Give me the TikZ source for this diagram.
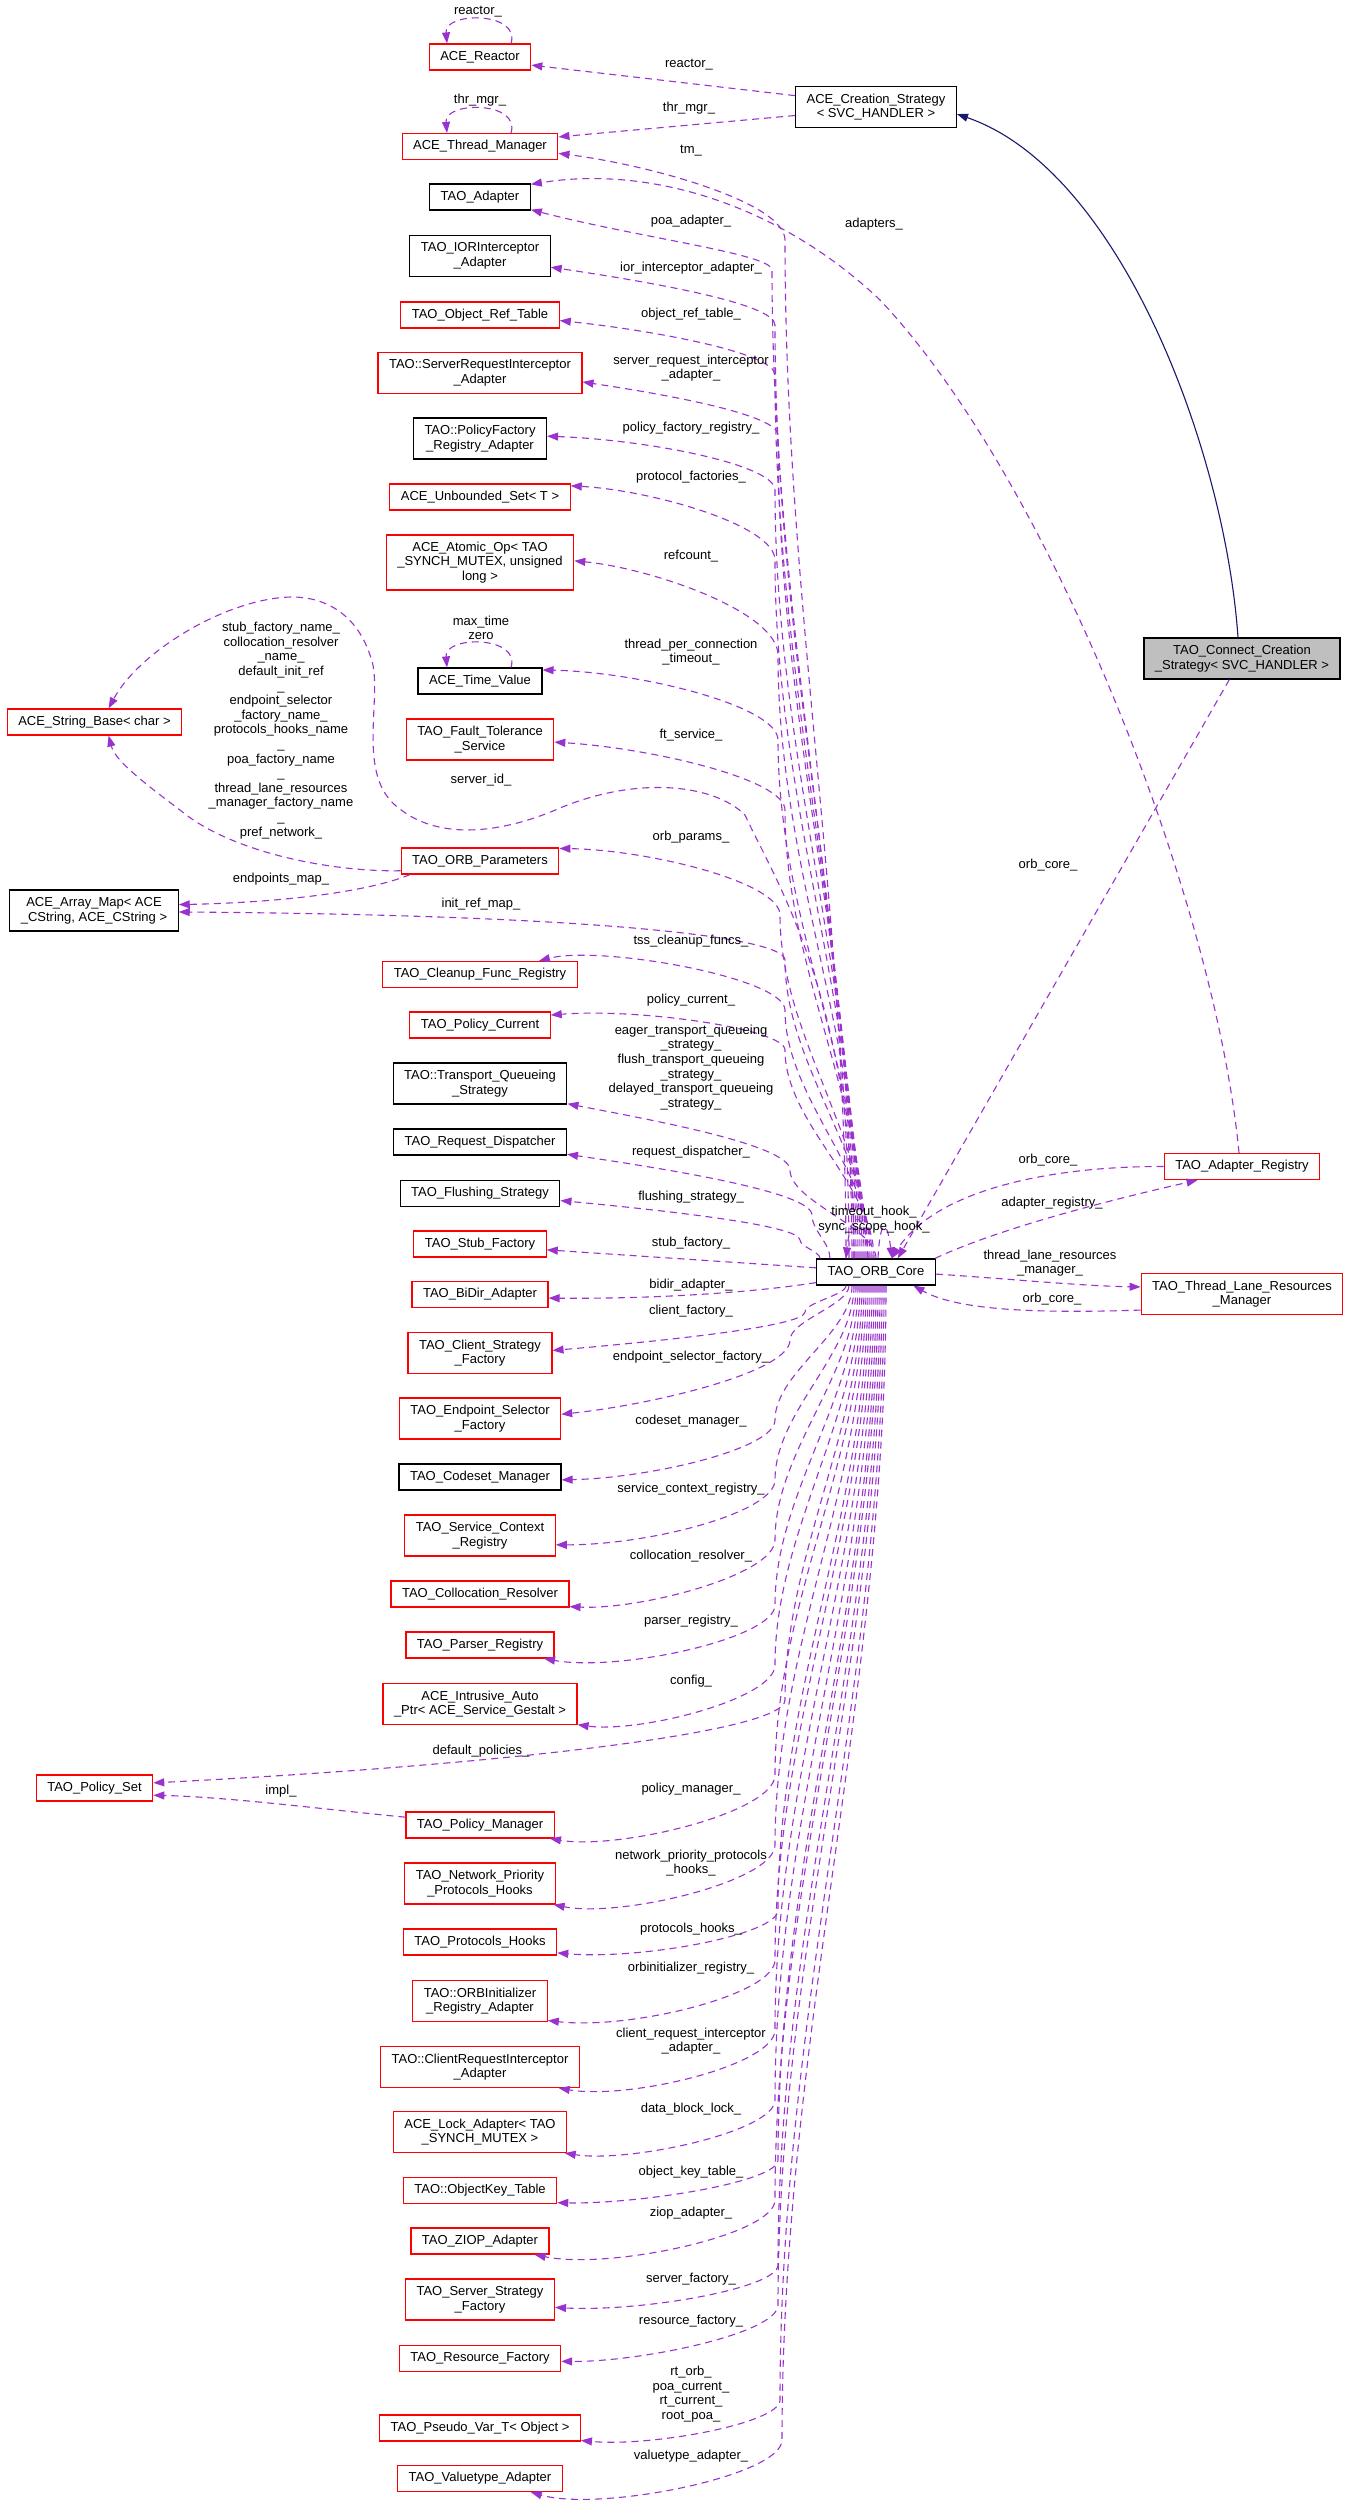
\documentclass[tikz,border=0pt]{standalone}
\usepackage{fontspec}
\setmainfont{Liberation Sans}
\usetikzlibrary{arrows.meta,calc}
\definecolor{depcol}{HTML}{9A32CD}
\definecolor{inhcol}{HTML}{191970}
\definecolor{boxgray}{HTML}{BFBFBF}
\newcommand\umlfont{\fontsize{13}{14.6}\selectfont}
\begin{document}
\begin{tikzpicture}
[x=1pt,y=-1pt,
  cls/.style={rectangle,draw,align=center,inner xsep=11pt,inner ysep=2pt,%
    minimum height=26pt,line width=1.2pt,font=\umlfont},%
  clsred/.style={cls,draw=red},%
  clsblk/.style={cls,draw=black},%
  clsgray/.style={cls,draw=black,fill=boxgray},%
  twoline/.style={minimum height=41pt},%
  threeline/.style={minimum height=55pt},%
  lbl/.style={align=center,inner sep=0pt,font=\umlfont},%
  dep/.style={draw=depcol,line width=1.1pt,dash pattern=on 7pt off 5pt,%
    -{Triangle[length=11pt,width=8pt]}},%
  inh/.style={draw=inhcol,line width=1.1pt,-{Triangle[length=11pt,width=8pt]}}]
\useasboundingbox (0,0) rectangle (1349,2514);
\fill[white] (0,0) rectangle (1349,2514);
%% classes
\node[clsred] (reactor) at (480,57) {ACE\_Reactor};
\node[clsred] (thrmgr) at (480,146.5) {ACE\_Thread\_Manager};
\node[clsblk,twoline] (creation) at (876,107) {ACE\_Creation\_Strategy\\< SVC\_HANDLER >};
\node[clsblk] (adapter) at (480,197) {TAO\_Adapter};
\node[clsblk,twoline] (iorint) at (480,256) {TAO\_IORInterceptor\\\_Adapter};
\node[clsred] (objref) at (480,315) {TAO\_Object\_Ref\_Table};
\node[clsred,twoline] (srvreq) at (480,373) {TAO::ServerRequestInterceptor\\\_Adapter};
\node[clsblk,twoline] (polfac) at (480,438.5) {TAO::PolicyFactory\\\_Registry\_Adapter};
\node[clsred] (unbset) at (480,497) {ACE\_Unbounded\_Set< T >};
\node[clsred,threeline] (atomic) at (480,562.5) {ACE\_Atomic\_Op< TAO\\\_SYNCH\_MUTEX, unsigned\\long >};
\node[clsblk] (timeval) at (480,681) {ACE\_Time\_Value};
\node[clsred,twoline] (faulttol) at (480,739.5) {TAO\_Fault\_Tolerance\\\_Service};
\node[clsred] (strbase) at (94.5,722) {ACE\_String\_Base< char >};
\node[clsred] (orbparams) at (480,861) {TAO\_ORB\_Parameters};
\node[clsblk,twoline] (arraymap) at (94,910.5) {ACE\_Array\_Map< ACE\\\_CString, ACE\_CString >};
\node[clsred] (cleanup) at (480,974.5) {TAO\_Cleanup\_Func\_Registry};
\node[clsred] (polcur) at (480,1025) {TAO\_Policy\_Current};
\node[clsblk,twoline] (transq) at (480,1083.5) {TAO::Transport\_Queueing\\\_Strategy};
\node[clsblk] (reqdisp) at (480,1142) {TAO\_Request\_Dispatcher};
\node[clsblk] (flush) at (480,1193.5) {TAO\_Flushing\_Strategy};
\node[clsred] (stubfac) at (480,1244) {TAO\_Stub\_Factory};
\node[clsblk] (core) at (876,1272) {TAO\_ORB\_Core};
\node[clsred] (bidir) at (480,1294.5) {TAO\_BiDir\_Adapter};
\node[clsred,twoline] (clistrat) at (480,1353) {TAO\_Client\_Strategy\\\_Factory};
\node[clsred,twoline] (endpsel) at (480,1418.5) {TAO\_Endpoint\_Selector\\\_Factory};
\node[clsblk] (codeset) at (480,1477) {TAO\_Codeset\_Manager};
\node[clsred,twoline] (svcctx) at (480,1535.5) {TAO\_Service\_Context\\\_Registry};
\node[clsred] (colloc) at (480,1594) {TAO\_Collocation\_Resolver};
\node[clsred] (parser) at (480,1645) {TAO\_Parser\_Registry};
\node[clsred,twoline] (intrusive) at (480,1704) {ACE\_Intrusive\_Auto\\\_Ptr< ACE\_Service\_Gestalt >};
\node[clsred] (polset) at (94.5,1788) {TAO\_Policy\_Set};
\node[clsred] (polmgr) at (480,1825) {TAO\_Policy\_Manager};
\node[clsred,twoline] (netprio) at (480,1883.5) {TAO\_Network\_Priority\\\_Protocols\_Hooks};
\node[clsred] (protohooks) at (480,1942) {TAO\_Protocols\_Hooks};
\node[clsred,twoline] (orbinit) at (480,2001) {TAO::ORBInitializer\\\_Registry\_Adapter};
\node[clsred,twoline] (clireq) at (480,2067) {TAO::ClientRequestInterceptor\\\_Adapter};
\node[clsred,twoline] (lockadp) at (480,2132) {ACE\_Lock\_Adapter< TAO\\\_SYNCH\_MUTEX >};
\node[clsred] (objkey) at (480,2190.5) {TAO::ObjectKey\_Table};
\node[clsred] (ziop) at (480,2241) {TAO\_ZIOP\_Adapter};
\node[clsred,twoline] (srvstrat) at (480,2299.5) {TAO\_Server\_Strategy\\\_Factory};
\node[clsred] (resfac) at (480,2358.5) {TAO\_Resource\_Factory};
\node[clsred] (pseudo) at (480,2428) {TAO\_Pseudo\_Var\_T< Object >};
\node[clsred] (valuetype) at (480,2478.5) {TAO\_Valuetype\_Adapter};
\node[clsgray,twoline] (connect) at (1242,658.5) {TAO\_Connect\_Creation\\\_Strategy< SVC\_HANDLER >};
\node[clsred] (adpreg) at (1242,1166.5) {TAO\_Adapter\_Registry};
\node[clsred,twoline] (tlrm) at (1242,1294) {TAO\_Thread\_Lane\_Resources\\\_Manager};
%% members of TAO_ORB_Core, upper half
\foreach \tgt/\ang/\px/\py/\cx/\cy/\sx in {
  thrmgr/-5/785/240/650/165/-30, adapter/-14/772/270/640/238/-27,
  iorint/-9/775/325/650/282/-24, objref/-4/775/375/650/330/-22,
  srvreq/-5/778/435/670/395/-20, polfac/2/775/490/650/440/-18,
  unbset/7/775/560/650/490/-16, atomic/1/778/655/650/568/-14,
  timeval/10/778/740/640/672/-12, faulttol/-2/785/810/650/748/-10,
  orbparams/9/780/915/650/850/-8, arraymap/-1/785/960/600/915/-6,
  cleanup/13/785/1010/600/945/-4, polcur/8/785/1050/640/1008/-2,
  transq/-13/790/1170/640/1118/0, reqdisp/-8/812/1215/660/1168/-46,
  flush/-5/800/1240/660/1210/-56} {
  \pgfmathsetmacro\k{0.35*(1259-\py)}
  \pgfmathsetmacro\cc{(\py+\cy)/2}
  \draw[dep] ([xshift=\sx pt]core.north) .. controls +(0,-\k) and +(0,\k) .. (\px,\py)
    .. controls (\px,\cc) and (\cx,\cy) .. (\tgt.\ang);
}
%% members of TAO_ORB_Core, lower half
\foreach \tgt/\ang/\px/\py/\cx/\cy/\sx in {
  clistrat/2/805/1312/650/1342/-30, endpsel/3/790/1340/650/1405/-27,
  codeset/-2/775/1420/650/1478/-24, svcctx/-7/775/1480/650/1545/-22,
  colloc/-8/775/1540/640/1610/-20, parser/-12/775/1605/620/1672/-18,
  intrusive/-12/775/1665/640/1733/-16, polset/5/785/1700/500/1765/-14,
  polmgr/-11/775/1775/620/1850/-12, netprio/-16/775/1845/620/1918/-10,
  protohooks/-8/778/1910/640/1960/-8, orbinit/-16/775/1960/630/2030/-6,
  clireq/-15/775/2030/630/2100/-4, lockadp/-14/775/2100/630/2163/-2,
  objkey/-9/778/2160/640/2204/0, ziop/-14/775/2200/610/2270/2,
  srvstrat/-6/778/2265/640/2312/4, resfac/-2/778/2305/640/2362/6,
  pseudo/-7/780/2400/650/2447/8, valuetype/-15/782/2440/600/2512/10} {
  \pgfmathsetmacro\k{0.35*(\py-1285)}
  \pgfmathsetmacro\cc{(\py+\cy)/2}
  \draw[dep] ([xshift=\sx pt]core.south) .. controls +(0,\k) and +(0,-\k) .. (\px,\py)
    .. controls (\px,\cc) and (\cx,\cy) .. (\tgt.\ang);
}
\draw[dep] (core.176) -- (stubfac.-5);
\draw[dep] (core.190) .. controls (750,1293) and (650,1299) .. (bidir.-3);
\draw[dep] ([xshift=-22pt]core.north) .. controls (854,1000) and (775,880) .. (745,815)
  .. controls (715,785) and (640,775) .. (560,808)
  .. controls (510,830) and (440,845) .. (395,805)
  .. controls (355,770) and (385,690) .. (370,655)
  .. controls (355,610) and (320,597) .. (293,597)
  .. controls (230,597) and (140,650) .. (strbase.44);
%% self references
\draw[dep] ([xshift=31pt]reactor.north) .. controls +(10,-32) and +(-3,-32) .. ([xshift=-33pt]reactor.north);
\draw[dep] ([xshift=31pt]thrmgr.north) .. controls +(10,-32) and +(-3,-32) .. ([xshift=-33pt]thrmgr.north);
\draw[dep] ([xshift=31pt]timeval.north) .. controls +(10,-32) and +(-3,-32) .. ([xshift=-33pt]timeval.north);
\draw[dep] ([xshift=-8pt]core.north) .. controls +(-2,-50) and +(5,-50) .. ([xshift=-30pt]core.north);
\draw[dep] ([xshift=2pt]core.north) .. controls +(2,-40) and +(-5,-40) .. ([xshift=16pt]core.north);
%% other usage edges
\draw[dep] (creation.172) -- (reactor.-9);
\draw[dep] (creation.-174) -- (thrmgr.7);
\draw[dep] (orbparams.187) .. controls (330,872) and (230,852) .. (180,810)
  .. controls (140,780) and (115,760) .. (strbase.-44);
\draw[dep] (orbparams.191) .. controls (360,895) and (260,903) .. (arraymap.4);
\draw[dep] (polmgr.174) .. controls (330,1810) and (230,1797) .. (polset.-7);
\draw[dep] ([xshift=-3pt]adpreg.north) .. controls (1215,900) and (1050,480) .. (880,300)
  .. controls (780,205) and (650,165) .. (adapter.14);
\draw[dep] (connect.-121) -- (core.32);
\draw[dep] (adpreg.west) .. controls (1050,1166) and (935,1190) .. (core.41);
\draw[dep] (core.13) .. controls (1000,1228) and (1110,1200) .. (adpreg.-163);
\draw[dep] (core.-2) .. controls (1000,1278) and (1080,1286) .. (tlrm.176);
\draw[dep] (tlrm.-171) .. controls (1050,1313) and (960,1312) .. (core.-20);
%% inheritance
\draw[inh] ([xshift=-4pt]connect.north) .. controls (1225,450) and (1120,170) .. (creation.-5);
%% labels
\foreach \ly/\txt in {151/tm\_, 221/poa\_adapter\_, 268/ior\_interceptor\_adapter\_,
  314/object\_ref\_table\_, 368/server\_request\_interceptor\\\_adapter\_,
  428/policy\_factory\_registry\_, 477/protocol\_factories\_, 556/refcount\_,
  652/thread\_per\_connection\\\_timeout\_, 735/ft\_service\_, 837/orb\_params\_,
  941/tss\_cleanup\_funcs\_, 1000/policy\_current\_,
  1067.5/eager\_transport\_queueing\\\_strategy\_\\flush\_transport\_queueing\\\_strategy\_\\delayed\_transport\_queueing\\\_strategy\_,
  1152/request\_dispatcher\_, 1197/flushing\_strategy\_, 1243/stub\_factory\_,
  1285/bidir\_adapter\_, 1311/client\_factory\_, 1357/endpoint\_selector\_factory\_,
  1421/codeset\_manager\_, 1489/service\_context\_registry\_,
  1556/collocation\_resolver\_, 1621/parser\_registry\_, 1681/config\_,
  1789/policy\_manager\_, 1863/network\_priority\_protocols\\\_hooks\_,
  1929/protocols\_hooks\_, 1968/orbinitializer\_registry\_,
  2041/client\_request\_interceptor\\\_adapter\_, 2109/data\_block\_lock\_,
  2172/object\_key\_table\_, 2213/ziop\_adapter\_, 2279/server\_factory\_,
  2321/resource\_factory\_, 2394/rt\_orb\_\\poa\_current\_\\rt\_current\_\\root\_poa\_,
  2456/valuetype\_adapter\_} {
  \node[lbl] at (691,\ly) {\txt};
}
\node[lbl] at (478,12) {reactor\_};
\node[lbl] at (689,65) {reactor\_};
\node[lbl] at (480,100) {thr\_mgr\_};
\node[lbl] at (689,108) {thr\_mgr\_};
\node[lbl] at (874,224) {adapters\_};
\node[lbl] at (481,628) {max\_time\\zero};
\node[lbl] at (481,780) {server\_id\_};
\node[lbl] at (281,730.5) {stub\_factory\_name\_\\collocation\_resolver\\\_name\_\\default\_init\_ref\\\_\\endpoint\_selector\\\_factory\_name\_\\protocols\_hooks\_name\\\_\\poa\_factory\_name\\\_\\thread\_lane\_resources\\\_manager\_factory\_name\\\_\\pref\_network\_};
\node[lbl] at (281,879) {endpoints\_map\_};
\node[lbl] at (481,904) {init\_ref\_map\_};
\node[lbl] at (874,1219.5) {timeout\_hook\_\\sync\_scope\_hook\_};
\node[lbl] at (481,1751) {default\_policies\_};
\node[lbl] at (281,1791) {impl\_};
\node[lbl] at (1048,865) {orb\_core\_};
\node[lbl] at (1048,1160) {orb\_core\_};
\node[lbl] at (1052,1203) {adapter\_registry\_};
\node[lbl] at (1050,1263) {thread\_lane\_resources\\\_manager\_};
\node[lbl] at (1052,1299) {orb\_core\_};
\end{tikzpicture}
\end{document}
